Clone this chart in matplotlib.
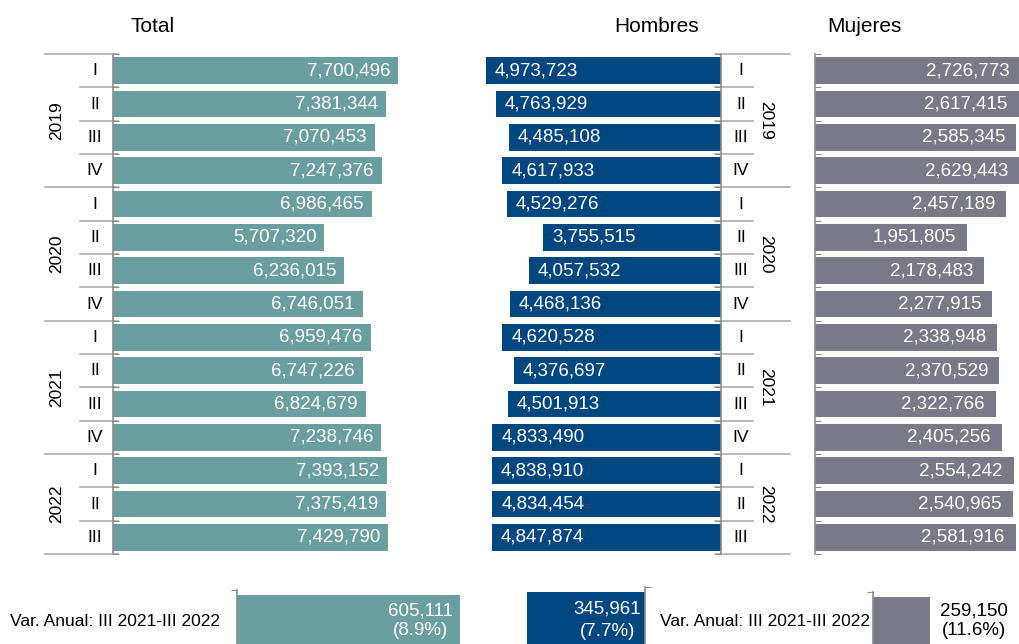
import matplotlib
matplotlib.use("Agg")
import matplotlib.pyplot as plt
import matplotlib.transforms as mtransforms

plt.rcParams["font.family"] = ["Liberation Sans", "DejaVu Sans"]

# data
years = ["2019", "2020", "2021", "2022"]
quarters = ["I", "II", "III", "IV"] * 3 + ["I", "II", "III"]
total = [7700496, 7381344, 7070453, 7247376,
         6986465, 5707320, 6236015, 6746051,
         6959476, 6747226, 6824679, 7238746,
         7393152, 7375419, 7429790]
hombres = [4973723, 4763929, 4485108, 4617933,
           4529276, 3755515, 4057532, 4468136,
           4620528, 4376697, 4501913, 4833490,
           4838910, 4834454, 4847874]
mujeres = [2726773, 2617415, 2585345, 2629443,
           2457189, 1951805, 2178483, 2277915,
           2338948, 2370529, 2322766, 2405256,
           2554242, 2540965, 2581916]
var_label = "Var. Anual: III 2021-III 2022"
var_total, var_total_pct = 605111, 8.9
var_hombres, var_hombres_pct = 345961, 7.7
var_mujeres, var_mujeres_pct = 259150, 11.6

TEAL = "#6A9EA0"
NAVY = "#00467F"
GRAY = "#7A7987"
AXC = "#8C8C8C"
SEP = "#A6A6A6"

W, H = 1020, 644
fig = plt.figure(figsize=(W / 100, H / 100), dpi=100)


def px_axes(l, t, r, b):
    return fig.add_axes([l / W, 1 - b / H, (r - l) / W, (b - t) / H])


n = len(total)
rows = list(range(n))
bounds = [i - 0.5 for i in range(n + 1)]
year_bounds = [-0.5, 3.5, 7.5, 11.5, 14.5]
year_centers = [1.5, 5.5, 9.5, 13.0]


def main_axes(l, r, xmax, vals, color, side, label_pad, inverted=False):
    ax = px_axes(l, 54, r, 554)
    ax.barh(rows, vals, height=0.8, color=color, zorder=2)
    ax.set_ylim(n - 0.5, -0.5)
    if inverted:
        ax.set_xlim(xmax, 0)
    else:
        ax.set_xlim(0, xmax)
    for s in ["top", "bottom", "left", "right"]:
        ax.spines[s].set_visible(False)
    ax.spines[side].set_visible(True)
    ax.spines[side].set_color(AXC)
    ax.spines[side].set_linewidth(1.2)
    ax.set_xticks([])
    ax.set_yticks(bounds)
    ax.set_yticklabels([])
    ax.tick_params(axis="y", direction="in", length=4, color=AXC,
                   left=(side == "left"), right=(side == "right"))
    for i, v in enumerate(vals):
        xv = min(v, xmax)
        if inverted:
            ax.annotate(f"{v:,}", xy=(xv, i), xytext=(label_pad * 0.72, 0),
                        textcoords="offset points", ha="left", va="center",
                        color="white", fontsize=13.5)
        else:
            ax.annotate(f"{v:,}", xy=(xv, i), xytext=(-label_pad * 0.72, 0),
                        textcoords="offset points", ha="right", va="center",
                        color="white", fontsize=13.5)
    return ax


ax_t = main_axes(113, 402, 7.8e6, total, TEAL, "left", 8)
ax_h = main_axes(479.6, 721.5, 5.1e6, hombres, NAVY, "right", 9, inverted=True)
ax_m = main_axes(815, 1020.3, 2.64e6, mujeres, GRAY, "left", 11)


def category_labels(ax, x_q, x_y, q_from, q_to, y_from, y_to, rot):
    tr = mtransforms.blended_transform_factory(fig.transFigure, ax.transData)
    for i, q in enumerate(quarters):
        ax.text(x_q / W, i, q, transform=tr, ha="center", va="center",
                fontsize=12.5)
    for yc, yr in zip(year_centers, years):
        ax.text(x_y / W, yc, yr, transform=tr, ha="center", va="center",
                rotation=rot, fontsize=12.5)
    for b in bounds:
        if b in year_bounds:
            x0, x1 = y_from, y_to
        else:
            x0, x1 = q_from, q_to
        ax.plot([x0 / W, x1 / W], [b, b], transform=tr, color=SEP,
                lw=1.1, clip_on=False, zorder=1)


category_labels(ax_t, 95, 57, 80, 118, 45, 118, 90)
category_labels(ax_h, 741, 766, 715, 753, 715, 790, 270)

fig.text(153 / W, 1 - 27 / H, "Total", ha="center", va="center", fontsize=15)
fig.text(657 / W, 1 - 27 / H, "Hombres", ha="center", va="center", fontsize=15)
fig.text(864 / W, 1 - 27 / H, "Mujeres", ha="center", va="center", fontsize=15)


def var_axes(l, t, r, xmax, val, color, side, inverted=False):
    ax = px_axes(l, t, r, 644)
    ax.barh(0, val, height=1, align="edge", color=color)
    ax.set_ylim(0, 1.1)
    if inverted:
        ax.set_xlim(xmax, 0)
    else:
        ax.set_xlim(0, xmax)
    for s in ["top", "bottom", "left", "right"]:
        ax.spines[s].set_visible(False)
    ax.spines[side].set_visible(True)
    ax.spines[side].set_color(AXC)
    ax.spines[side].set_linewidth(1.2)
    ax.set_xticks([])
    ax.set_yticks([1.1])
    ax.set_yticklabels([])
    ax.tick_params(axis="y", direction="out", length=4, color=AXC,
                   left=(side == "left"), right=(side == "right"))
    return ax


vt = var_axes(237, 590, 470, var_total * 233 / 223, var_total, TEAL, "left")
vh = var_axes(520, 587, 645, var_hombres * 125 / 118, var_hombres, NAVY,
              "right", inverted=True)
vm = var_axes(873, 592, 1020, var_mujeres * 147 / 57, var_mujeres, GRAY, "left")

fig.text(453 / W, 1 - 621 / H, f"{var_total:,}\n({var_total_pct}%)",
         ha="right", va="center", multialignment="center", color="white",
         fontsize=13.5, linespacing=1.2)
fig.text(641 / W, 1 - 620 / H, f"{var_hombres:,}\n({var_hombres_pct}%)",
         ha="right", va="center", multialignment="center", color="white",
         fontsize=13.5, linespacing=1.45)
fig.text(974 / W, 1 - 621 / H, f"{var_mujeres:,}\n({var_mujeres_pct}%)",
         ha="center", va="center", multialignment="center", color="black",
         fontsize=13.5, linespacing=1.2)
fig.text(10 / W, 1 - 621 / H, var_label, ha="left", va="center", fontsize=12.5)
fig.text(660 / W, 1 - 621 / H, var_label, ha="left", va="center", fontsize=12.5)

fig.savefig("out.png", dpi=100)
